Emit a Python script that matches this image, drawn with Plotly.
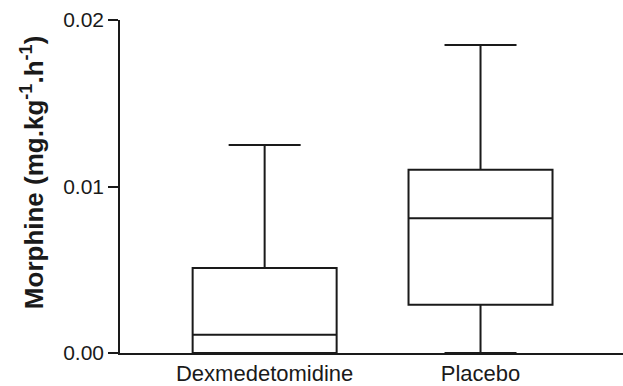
import plotly.graph_objects as go

# Morphine consumption per group (mg/kg/h): box statistics
groups = ["Dexmedetomidine", "Placebo"]
lower_whisker = [0.0, 0.0]
q1_values = [0.0, 0.0029]
medians = [0.0011, 0.0081]
q3_values = [0.0051, 0.0110]
upper_whisker = [0.0125, 0.0185]

y_ticks = [0.0, 0.01, 0.02]
y_tick_labels = ["0.00", "0.01", "0.02"]

FONT = "Liberation Sans, Arial, Helvetica, sans-serif"

fig = go.Figure()
for i, g in enumerate(groups):
    fig.add_trace(go.Box(
        x=[g],
        q1=[q1_values[i]],
        median=[medians[i]],
        q3=[q3_values[i]],
        lowerfence=[lower_whisker[i]],
        upperfence=[upper_whisker[i]],
        name=g,
        width=0.667,
        whiskerwidth=0.5,
        fillcolor="rgba(255,255,255,0)",
        line=dict(color="#1a1a1a", width=2),
        boxpoints=False,
        showlegend=False,
        hoverinfo="y",
    ))

fig.update_layout(
    width=623,
    height=386,
    margin=dict(l=120, r=0, t=20, b=31),
    paper_bgcolor="white",
    plot_bgcolor="white",
    font=dict(family=FONT, size=21, color="#1a1a1a"),
    xaxis=dict(
        type="category",
        categoryorder="array",
        categoryarray=groups,
        range=[-0.67, 1.66],
        showline=True,
        linecolor="#1a1a1a",
        linewidth=1.5,
        showgrid=False,
        zeroline=False,
        ticks="",
        tickfont=dict(size=22),
    ),
    yaxis=dict(
        range=[0, 0.02],
        tickvals=y_ticks,
        ticktext=y_tick_labels,
        showline=True,
        linecolor="#1a1a1a",
        linewidth=1.5,
        ticks="outside",
        ticklen=10,
        tickwidth=1.5,
        tickcolor="#1a1a1a",
        showgrid=False,
        zeroline=False,
        tickfont=dict(size=21),
    ),
    annotations=[dict(
        text="<b>Morphine (mg.kg<sup>-1</sup>.h<sup>-1</sup>)</b>",
        textangle=-90,
        xref="paper", yref="paper",
        x=-0.175, y=0.543,
        xanchor="center", yanchor="middle",
        showarrow=False,
        font=dict(family=FONT, size=26, color="#1a1a1a"),
    )],
)

fig.write_html("out.html")
